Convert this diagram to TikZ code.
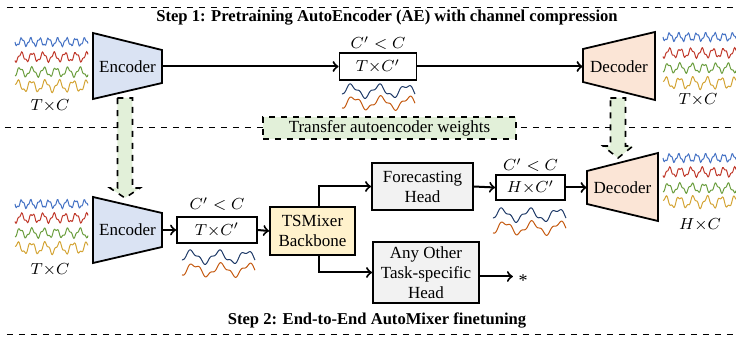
\documentclass[tikz,border=0pt]{standalone}
\usepackage{fontspec}
\setmainfont{Liberation Serif}

\definecolor{encblue}{HTML}{DAE3F3}
\definecolor{decpeach}{HTML}{FBE5D6}
\definecolor{mixyellow}{HTML}{FFF2CC}
\definecolor{headgray}{HTML}{F2F2F2}
\definecolor{xgreen}{HTML}{E2F0D9}
\definecolor{wblue}{HTML}{4472C4}
\definecolor{wred}{HTML}{C0392B}
\definecolor{wgreen}{HTML}{6B9E3F}
\definecolor{wgold}{HTML}{D4A537}
\definecolor{wnavy}{HTML}{1F3A68}
\definecolor{worange}{HTML}{C55A11}

% one channel of a time series
\newcommand{\sigline}[6]{\draw[#1,line width=0.5pt] plot[domain=0:73,samples=110] ({#2+\x},{#3+#4*sin(#5*\x+#6)+0.35*#4*sin(2.7*#5*\x)});}
% four input channels
\newcommand{\fourch}[5]{%
  \sigline{wblue}{#1}{#2}{3.5}{40}{0}
  \sigline{wred}{#1}{#3}{4}{33}{60}
  \sigline{wgreen}{#1}{#4}{4}{30}{120}
  \sigline{wgold}{#1}{#5}{5}{26}{200}}
% two compressed channels
\newcommand{\twoch}[3]{%
  \sigline{wnavy}{#1}{#2}{5.5}{13}{150}
  \sigline{worange}{#1}{#3}{5.5}{13}{120}}
% dashed block arrow pointing down: x, top, head start, tip
\newcommand{\xferarrow}[4]{\draw[xfer] (#1-7.5,#2) -- (#1+7.5,#2) -- (#1+7.5,#3) -- (#1+15,#3) -- (#1,#4) -- (#1-15,#3) -- (#1-7.5,#3) -- cycle;}

\begin{document}
\begin{tikzpicture}[x=0.5pt,y=-0.5pt,font=\fontsize{8.5}{10}\selectfont,
  trap/.style={draw,line width=0.9pt},
  lbl/.style={inner sep=0,minimum height=16.5pt},
  blk/.style={draw,line width=0.9pt,align=center,inner sep=0},
  link/.style={->,line width=1pt},
  xfer/.style={draw,dashed,line width=0.8pt,fill=xgreen},
  sep/.style={dashed,line width=0.5pt},
  title/.style={font=\fontsize{8.3}{10}\selectfont\bfseries}]

\useasboundingbox (0,0) rectangle (736,337);

% separators
\draw[sep] (7,8) -- (733,8);
\draw[sep] (5,128) -- (733,128);
\draw[sep] (7,335) -- (733,335);
\node[title] (t1) at (387,17.5) {Step 1: Pretraining AutoEncoder (AE) with channel compression};
\node[title] (t2) at (377,320) {Step 2: End-to-End AutoMixer finetuning};

% step 1
\fourch{15}{42}{57}{72}{86}
\node (in1) at (50,106) {$T{\times}C$};
\draw[trap,fill=encblue] (93,33) -- (162,50) -- (162,83) -- (93,99) -- cycle;
\node[lbl,minimum width=34.5pt] (enc1) at (127.5,66.5) {Encoder};
\node[blk,minimum width=38.5pt,minimum height=13.5pt] (z1) at (378,66.5) {$T{\times}C'$};
\node (c1) at (378,43) {$C' < C$};
\twoch{342}{91}{103}
\draw[trap,fill=decpeach] (583,49) -- (655,32) -- (655,100) -- (583,82) -- cycle;
\node[lbl,minimum width=36pt] (dec1) at (619,66.5) {Decoder};
\fourch{663}{37}{53}{68}{83}
\node (out1) at (698,100) {$T{\times}C$};
\draw[link] (enc1.east) -- (z1.west);
\draw[link] (z1.east) -- (dec1.west);

% weight transfer
\xferarrow{125}{98}{188}{198}
\xferarrow{618}{98}{146}{158}
\node[draw,dashed,line width=1pt,fill=xgreen,minimum width=126.5pt,minimum height=11pt,inner sep=0] (xw) at (389.5,128) {Transfer autoencoder weights};

% step 2
\fourch{15}{204}{218}{233}{248}
\node (in2) at (50,270) {$T{\times}C$};
\draw[trap,fill=encblue] (93,197) -- (162,213) -- (162,247) -- (93,263) -- cycle;
\node[lbl,minimum width=34.5pt] (enc2) at (127.5,230) {Encoder};
\node[blk,minimum width=40pt,minimum height=13pt] (z2) at (217,230) {$T{\times}C'$};
\node (c2) at (217,204) {$C' < C$};
\twoch{182}{257}{270}
\node[blk,fill=mixyellow,minimum width=42.5pt,minimum height=24pt] (mix) at (312.5,231) {TSMixer\\Backbone};
\node[blk,fill=headgray,minimum width=50.5pt,minimum height=23.5pt] (fh) at (422.5,186.5) {Forecasting\\Head};
\node[blk,fill=headgray,minimum width=53pt,minimum height=30.5pt] (oh) at (426,272.5) {Any Other\\Task-specific\\Head};
\node[font=\fontsize{9}{10}\selectfont] (star) at (523,281) {*};
\node[blk,minimum width=34.5pt,minimum height=12.5pt] (h2) at (530.5,187.5) {$H{\times}C'$};
\node (c3) at (530.5,165) {$C' < C$};
\twoch{493}{215}{228}
\draw[trap,fill=decpeach] (587,171) -- (658,153) -- (658,221) -- (587,204) -- cycle;
\node[lbl,minimum width=35.5pt] (dec2) at (622.5,187.5) {Decoder};
\fourch{663}{158}{172}{188}{202}
\node (out2) at (700,225) {$H{\times}C$};

\draw[link] (enc2.east) -- (z2.west);
\draw[link] (z2.east) -- (mix.west);
\draw[link] ([xshift=3.5pt]mix.north) |- (fh.west);
\draw[link] ([xshift=3.5pt]mix.south) |- (oh.west);
\draw[link] (fh.east) -- (h2.west);
\draw[link] (h2.east) -- (dec2.west);
\draw[link] ([yshift=-2pt]oh.east) -- ++(33,0) coordinate (tip);
\end{tikzpicture}
\end{document}
